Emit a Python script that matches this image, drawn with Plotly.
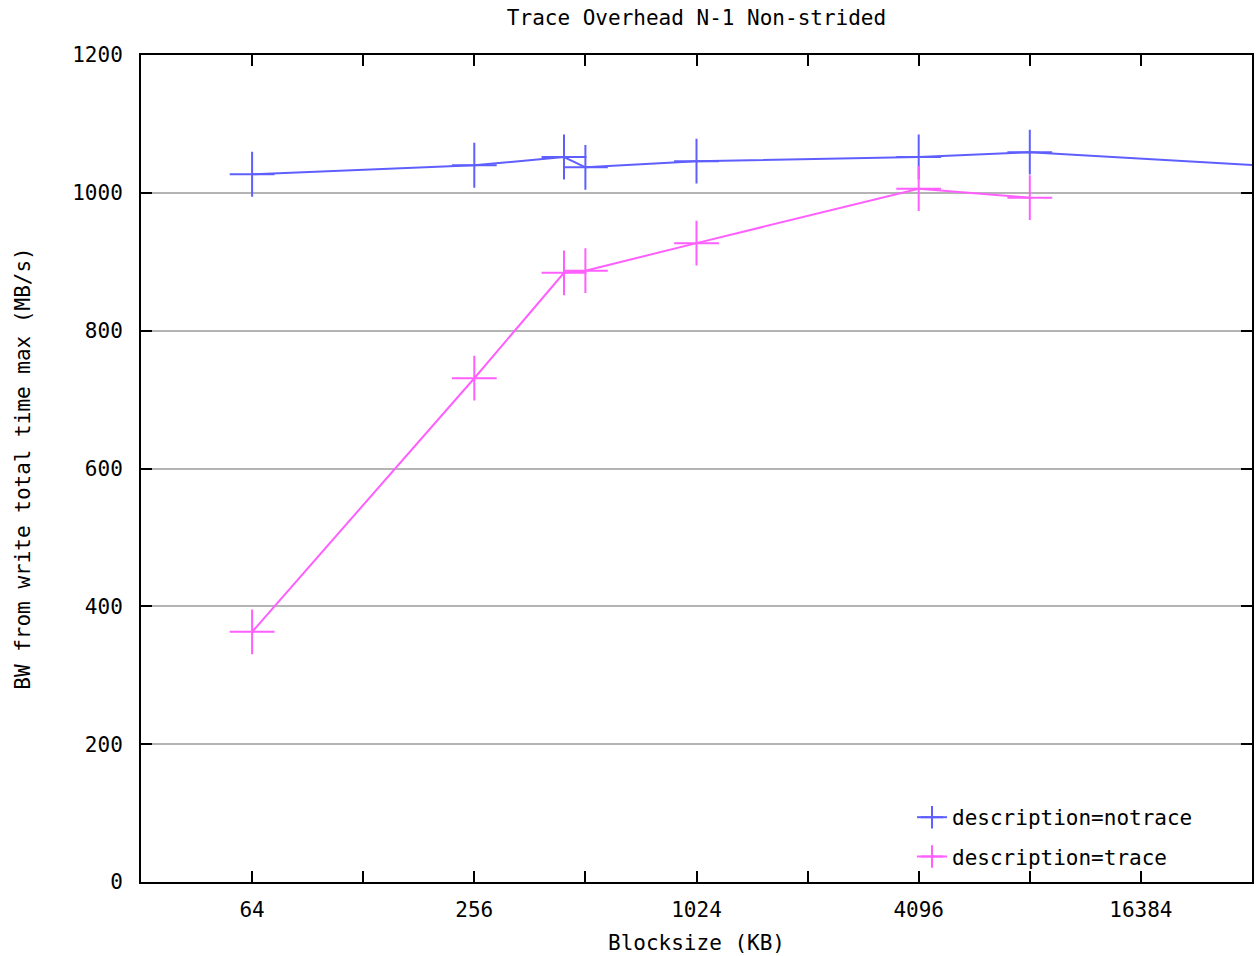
import math
import plotly.graph_objects as go

# Data
notrace_blocks = [64, 256, 448, 512, 1024, 4096, 8192, 65536]
notrace_bw = [1027, 1040, 1052, 1037, 1046, 1052, 1059, 1031]
trace_blocks = [64, 256, 448, 512, 1024, 4096, 8192]
trace_bw = [363, 731, 884, 887, 927, 1006, 993]

x_tick_vals = [32, 64, 128, 256, 512, 1024, 2048, 4096, 8192, 16384, 32768]
x_tick_text = ["", "64", "", "256", "", "1024", "", "4096", "", "16384", ""]
y_tick_vals = [0, 200, 400, 600, 800, 1000, 1200]

BLUE = "#5f5fff"
MAGENTA = "#ff5fff"
FONT = "DejaVu Sans Mono"

fig = go.Figure()
fig.add_trace(go.Scatter(
    x=notrace_blocks, y=notrace_bw, mode="lines+markers",
    name="description=notrace", legendgroup="a",
    line=dict(color=BLUE, width=2),
    marker=dict(symbol="cross-thin", size=32, line=dict(color=BLUE, width=2)),
))
fig.add_trace(go.Scatter(
    x=trace_blocks, y=trace_bw, mode="lines+markers",
    name="description=trace", legendgroup="b",
    line=dict(color=MAGENTA, width=2),
    marker=dict(symbol="cross-thin", size=32, line=dict(color=MAGENTA, width=2)),
))

fig.update_layout(
    width=1259, height=956,
    margin=dict(l=141, r=5, t=55, b=71),
    paper_bgcolor="white", plot_bgcolor="white",
    font=dict(family=FONT, size=21, color="black"),
    title=dict(text="Trace Overhead N-1 Non-strided", x=0.5, xref="paper",
               y=1 - 18 / 956, yanchor="middle", yref="container",
               font=dict(family=FONT, size=21, color="black")),
    showlegend=True,
    legend=dict(x=0.694, xanchor="left", y=0.006, yanchor="bottom",
                bgcolor="rgba(0,0,0,0)", font=dict(family=FONT, size=21),
                traceorder="grouped", tracegroupgap=9),
)

fig.update_xaxes(
    type="log", range=[math.log10(32), math.log10(32768)],
    tickmode="array", tickvals=x_tick_vals, ticktext=x_tick_text,
    ticks="inside", ticklen=11, tickwidth=2, tickcolor="black",
    showline=True, linecolor="black", linewidth=2, mirror="allticks",
    showgrid=False, zeroline=False,
    title=dict(text="Blocksize (KB)", standoff=14, font=dict(family=FONT, size=21)),
    ticklabelstandoff=8,
)
fig.update_yaxes(
    range=[0, 1200], tickmode="array", tickvals=y_tick_vals,
    ticks="inside", ticklen=11, tickwidth=2, tickcolor="black",
    showline=True, linecolor="black", linewidth=2, mirror="allticks",
    showgrid=True, gridcolor="#b4b4b4", gridwidth=2, zeroline=False,
    title=dict(text="BW from write total time max (MB/s)", standoff=36,
               font=dict(family=FONT, size=21)),
    ticklabelstandoff=12,
)

fig.write_html("out.html", config={"displayModeBar": False},
               post_script="document.body.style.margin='0px';")
